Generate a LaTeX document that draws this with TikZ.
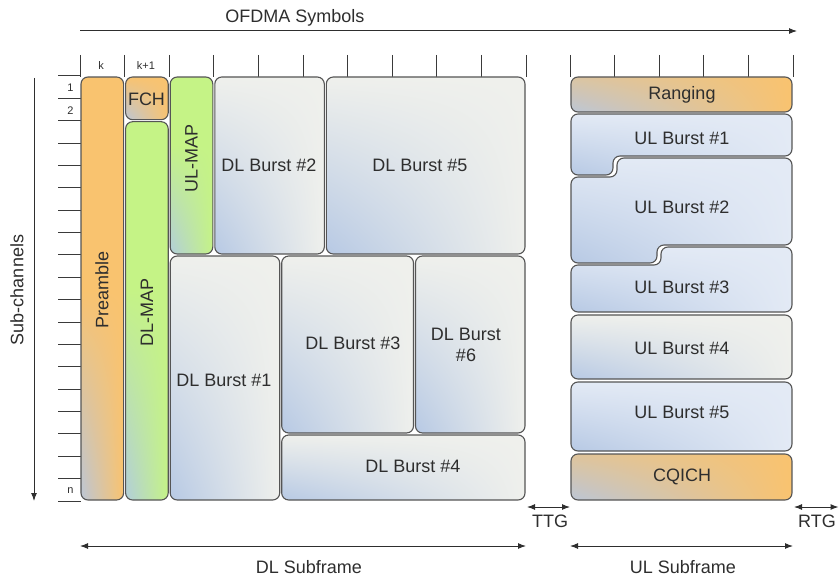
\documentclass[tikz,border=0pt]{standalone}
\usepackage{fontspec}
\setmainfont{Liberation Sans}
\usetikzlibrary{arrows.meta,shadings}

\definecolor{edge}{HTML}{555555}
\definecolor{tickc}{HTML}{3A3A3A}
\definecolor{txt}{HTML}{2E2E2E}
\definecolor{orng}{HTML}{F9C36F}
\definecolor{grn}{HTML}{C5F386}
\definecolor{dlbase}{HTML}{EFF0EC}
\definecolor{ulbase}{HTML}{E3EAF5}
\definecolor{bluec}{HTML}{B7C9E4}
\definecolor{orngc}{HTML}{BCC6D6}
\definecolor{grnc}{HTML}{B2CEDA}

\tikzset{
  boxline/.style={draw=edge, line width=1.1pt, rounded corners=7pt},
  tickline/.style={draw=tickc, line width=1pt},
  lbl/.style={font=\fontsize{18}{21}\selectfont, text=txt, align=center, inner sep=0pt},
  smalllbl/.style={font=\fontsize{11}{13}\selectfont, text=txt, inner sep=0pt},
  axisarrow/.style={draw=txt, line width=1pt, -{Latex[length=8pt,width=6pt]}},
  twoway/.style={draw=txt, line width=1pt, {Latex[length=8pt,width=6pt]}-{Latex[length=8pt,width=6pt]}},
}

% rounded block: x0,y0,x1,y1, base colour, corner colour, height of the shaded band at the bottom
\newcommand\fillbox[7]{%
  \begin{scope}
    \clip[rounded corners=7pt] (#1,#2) rectangle (#3,#4);
    \fill[#5] (#1,#2) rectangle (#3,#4);
    \shade[lower left=#6, upper left=#5, upper right=#5, lower right=#5] (#1,#4-#7) rectangle (#3,#4);
  \end{scope}
  \path[boxline] (#1,#2) rectangle (#3,#4);
}
% block with an arbitrary outline: path, base colour, corner colour, shading rectangle
\newcommand\pathbox[4]{%
  \begin{scope}
    \clip[rounded corners=7pt] #1;
    \fill[#2] #4;
    \shade[lower left=#3, upper left=#2, upper right=#2, lower right=#2] #4;
  \end{scope}
  \path[boxline] #1;
}

\begin{document}
\begin{tikzpicture}[x=1pt, y=-1pt]
\useasboundingbox (0,0) rectangle (839,578);

% ---------- axes ----------
\coordinate (topL) at (80,31);
\coordinate (topR) at (797,31);
\draw[axisarrow] (topL) -- (topR);
\node[lbl] (ofdma) at (295,18) {OFDMA Symbols};

\coordinate (sideT) at (34,78);
\coordinate (sideB) at (34,501);
\draw[axisarrow] (sideT) -- (sideB);
\node[lbl, rotate=90] (subch) at (17,290) {Sub-channels};

% ---------- symbol ticks (DL) ----------
\foreach \i in {0,...,10}
  \draw[tickline] (80+44.6*\i,55) -- (80+44.6*\i,77);
% ---------- symbol ticks (UL) ----------
\foreach \i in {0,...,5}
  \draw[tickline] (570+44.6*\i,55) -- (570+44.6*\i,77);
% ---------- sub-channel ticks ----------
\foreach \j in {0,...,19}
  \draw[tickline] (58,76+22.37*\j) -- (81,76+22.37*\j);

\node[smalllbl] (lk)  at (101,66) {k};
\node[smalllbl] (lk1) at (146,66) {k+1};
\node[smalllbl] (r1)  at (70.5,88) {1};
\node[smalllbl] (r2)  at (70.5,110.5) {2};
\node[smalllbl] (rn)  at (70.5,491) {n};

% ---------- DL subframe ----------
\fillbox{81}{77}{123.6}{500}{orng}{orngc}{210}
\node[lbl, rotate=90] (pre) at (102,290) {Preamble};

\fillbox{125.6}{77}{168.2}{119.7}{orng}{orngc}{43}
\node[lbl] (fch) at (146.5,99) {FCH};

\fillbox{125.6}{121.7}{168.2}{500}{grn}{grnc}{210}
\node[lbl, rotate=90] (dlmap) at (147,312) {DL-MAP};

\fillbox{170.2}{77}{212.8}{254}{grn}{grnc}{110}
\node[lbl, rotate=90] (ulmap) at (191.5,158) {UL-MAP};

\fillbox{214.8}{77}{324.3}{254}{dlbase}{bluec}{177}
\node[lbl] (b2) at (269,165) {DL Burst \#2};

\fillbox{326.3}{77}{525}{254}{dlbase}{bluec}{177}
\node[lbl] (b5) at (420,165) {DL Burst \#5};

\fillbox{170.2}{256}{279.7}{500}{dlbase}{bluec}{244}
\node[lbl] (b1) at (224,380) {DL Burst \#1};

\fillbox{281.7}{256}{413.5}{433}{dlbase}{bluec}{177}
\node[lbl] (b3) at (353,343) {DL Burst \#3};

\fillbox{415.5}{256}{525}{433}{dlbase}{bluec}{177}
\node[lbl] (b6) at (466,345) {DL Burst\\\#6};

\fillbox{281.7}{435}{525}{500}{dlbase}{bluec}{65}
\node[lbl] (b4) at (413,466) {DL Burst \#4};

% ---------- UL subframe ----------
\fillbox{571}{77}{792}{112}{orng}{orngc}{70}
\node[lbl] (rng) at (682,95) {Ranging};

\pathbox{(680,114) -- (792,114) -- (792,156) -- (613,156) -- (613,175) -- (571,175) -- (571,114) -- cycle}
  {ulbase}{bluec}{(571,114) rectangle (792,175)}
\node[lbl] (u1) at (682,138) {UL Burst \#1};

\pathbox{(700,158) -- (792,158) -- (792,245) -- (657,245) -- (657,263) -- (571,263) -- (571,177) -- (617,177) -- (617,158) -- cycle}
  {ulbase}{bluec}{(571,158) rectangle (792,263)}
\node[lbl] (u2) at (682,207) {UL Burst \#2};

\pathbox{(720,247) -- (792,247) -- (792,312) -- (571,312) -- (571,265) -- (661,265) -- (661,247) -- cycle}
  {ulbase}{bluec}{(571,247) rectangle (792,312)}
\node[lbl] (u3) at (682,287) {UL Burst \#3};

\fillbox{571}{315}{792}{379}{dlbase}{bluec}{64}
\node[lbl] (u4) at (682,348) {UL Burst \#4};

\fillbox{571}{382}{792}{451}{ulbase}{bluec}{69}
\node[lbl] (u5) at (682,412) {UL Burst \#5};

\fillbox{571}{454}{792}{500}{orng}{orngc}{80}
\node[lbl] (cqi) at (682,477) {CQICH};

% ---------- gaps ----------
\coordinate (ttgL) at (527,507);
\coordinate (ttgR) at (570,507);
\draw[twoway] (ttgL) -- (ttgR);
\node[lbl] (ttg) at (550,521) {TTG};

\coordinate (rtgL) at (794,507);
\coordinate (rtgR) at (838.5,507);
\draw[twoway] (rtgL) -- (rtgR);
\node[lbl] (rtg) at (817,521) {RTG};

% ---------- subframe spans ----------
\coordinate (dlL) at (80,546);
\coordinate (dlR) at (526,546);
\draw[twoway] (dlL) -- (dlR);
\node[lbl] (dlsub) at (309,567) {DL Subframe};

\coordinate (ulL) at (570,546);
\coordinate (ulR) at (793,546);
\draw[twoway] (ulL) -- (ulR);
\node[lbl] (ulsub) at (683,567) {UL Subframe};
\end{tikzpicture}
\end{document}
